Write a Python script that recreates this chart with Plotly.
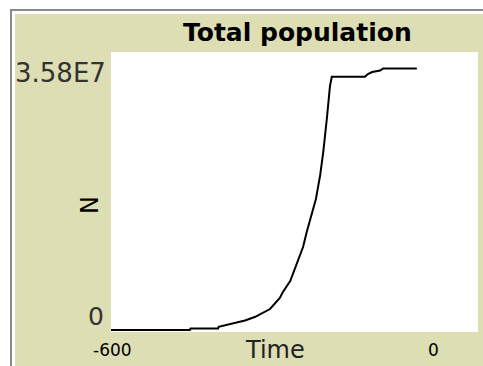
import plotly.graph_objects as go

# ---- data ----
time = [-600, -471, -470, -425, -424, -402, -381, -365, -353, -340, -324, -319,
        -307, -296, -286, -280, -275, -270, -265, -258, -253, -247, -242, -239,
        -185, -180, -173, -160, -155, -100]
population = [0, 0, 0.19e6, 0.19e6, 0.41e6, 0.84e6, 1.22e6, 1.67e6, 2.19e6, 2.70e6,
              4.12e6, 4.89e6, 6.31e6, 8.50e6, 10.69e6, 12.62e6, 14.04e6, 15.45e6,
              16.87e6, 19.96e6, 22.92e6, 27.30e6, 31.42e6, 32.6e6,
              32.6e6, 32.97e6, 33.22e6, 33.42e6, 33.68e6, 33.68e6]

title_text = "Total population"
x_label = "Time"
y_label = "N"
x_min_label, x_max_label = "-600", "0"
y_min_label, y_max_label = "0", "3.58E7"
x_range = [-600, 0]
y_max = 3.58e7

# ---- layout geometry (pixels) ----
W, H = 483, 366
L, R, T, B = 111, 5, 52, 34
PW, PH = W - L - R, H - T - B
BEIGE = "rgb(222,222,180)"
FONT = "DejaVu Sans"


def px_x(px):
    return (px - L) / PW


def px_y(py):
    return (H - B - py) / PH


fig = go.Figure()
fig.add_trace(go.Scatter(x=time, y=population, mode="lines",
                         line=dict(color="black", width=2), hoverinfo="skip"))

y_min = -2 * y_max / (PH - 2)

annotations = [
    dict(text="<b>" + title_text + "</b>", x=px_x(297.5), y=px_y(32),
         font=dict(size=25, color="black", family=FONT)),
    dict(text=y_max_label, x=px_x(108), y=px_y(73.5), xanchor="right",
         font=dict(size=26, color="#333333", family=FONT)),
    dict(text=y_min_label, x=px_x(106), y=px_y(316), xanchor="right",
         font=dict(size=25, color="#333333", family=FONT)),
    dict(text=y_label, x=px_x(90), y=px_y(205), textangle=-90,
         font=dict(size=24, color="black", family=FONT)),
    dict(text=x_min_label, x=px_x(112.5), y=px_y(350),
         font=dict(size=17, color="black", family=FONT)),
    dict(text=x_label, x=px_x(275), y=px_y(350),
         font=dict(size=24, color="#222222", family=FONT)),
    dict(text=x_max_label, x=px_x(433), y=px_y(350),
         font=dict(size=17, color="black", family=FONT)),
]
for a in annotations:
    a.setdefault("xanchor", "center")
    a.update(xref="paper", yref="paper", yanchor="middle", showarrow=False)

shapes = [
    # white margins outside the widget frame
    dict(type="rect", x0=px_x(-5), x1=px_x(15), y0=px_y(H + 5), y1=px_y(-5),
         fillcolor="white", line=dict(width=0)),
    dict(type="rect", x0=px_x(-5), x1=px_x(W + 5), y0=px_y(14), y1=px_y(-5),
         fillcolor="white", line=dict(width=0)),
    # grey frame lines
    dict(type="line", x0=px_x(11), x1=px_x(11), y0=px_y(9), y1=px_y(H + 5),
         line=dict(color="#8a8a8a", width=2)),
    dict(type="line", x0=px_x(10), x1=px_x(W + 5), y0=px_y(10), y1=px_y(10),
         line=dict(color="#8a8a8a", width=2)),
]
for s in shapes:
    s.update(xref="paper", yref="paper", layer="above")

fig.update_layout(
    width=W, height=H, autosize=False,
    margin=dict(l=L, r=R, t=T, b=B, pad=0),
    paper_bgcolor=BEIGE, plot_bgcolor="white",
    showlegend=False,
    annotations=annotations, shapes=shapes,
    xaxis=dict(range=x_range, showgrid=False, zeroline=False, showticklabels=False,
               showline=False, ticks="", fixedrange=True),
    yaxis=dict(range=[y_min, y_max], showgrid=False, zeroline=False,
               showticklabels=False, showline=False, ticks="", fixedrange=True),
)

fig.write_html("out.html", config={"displayModeBar": False},
               post_script="document.body.style.margin='0';"
                           "document.body.style.overflow='hidden';")
